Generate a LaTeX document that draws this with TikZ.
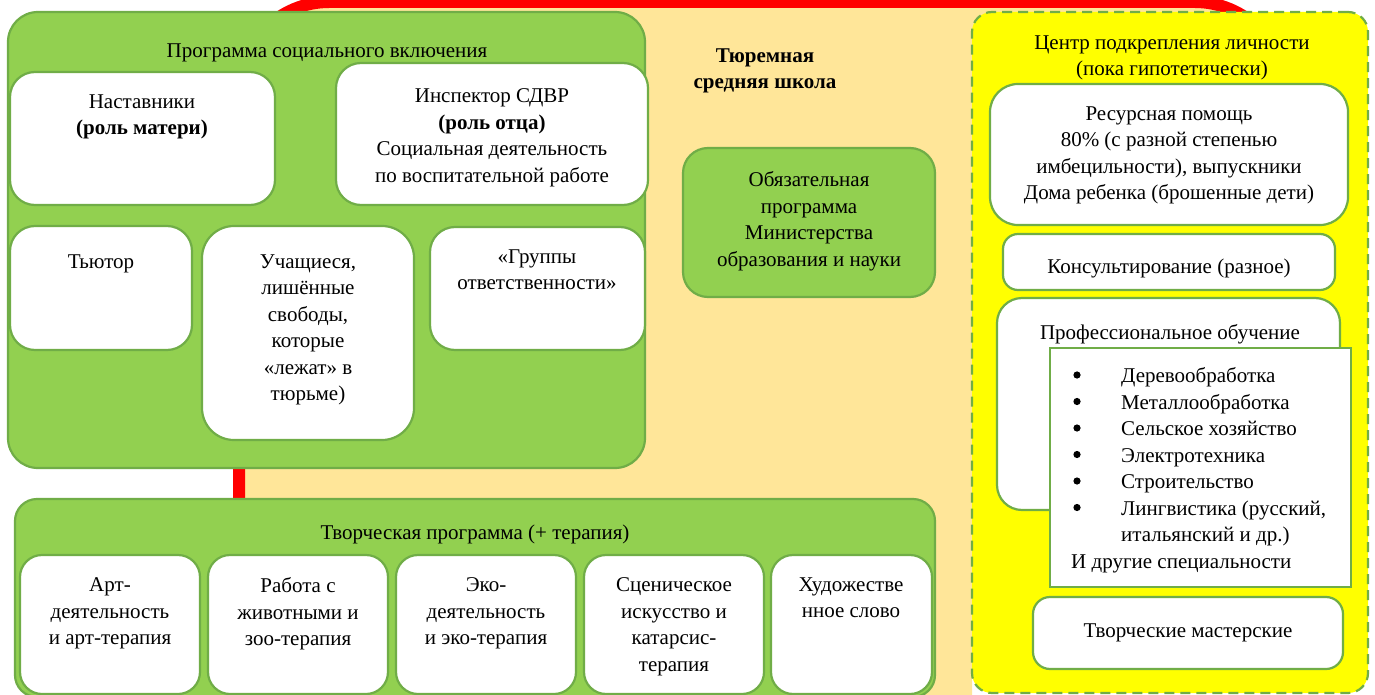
\documentclass[tikz,border=0pt]{standalone}
\usepackage{fontspec}
\setmainfont{Liberation Serif}
\usetikzlibrary{fit}
\definecolor{gfill}{HTML}{92D050}
\definecolor{gline}{HTML}{70AD47}
\definecolor{peach}{HTML}{FFE699}
\definecolor{yel}{HTML}{FFFF00}
\newcommand\myfs{\fontsize{21}{26.5}\selectfont}
\newcommand\bul{\hspace*{50pt}}
\tikzset{
  gbox/.style={draw=gline, fill=gfill, line width=2.2pt, inner sep=0pt, rounded corners=30pt},
  wbox/.style={draw=gline, fill=white, line width=2.2pt, inner sep=0pt, rounded corners=25pt},
  ybox/.style={draw=gline, fill=yel, line width=2.2pt, inner sep=0pt, rounded corners=20pt, dash pattern=on 10pt off 6pt},
  txt/.style={inner sep=0pt, align=center, font=\myfs, execute at begin node=\strut, anchor=north},
  bulletdot/.style={fill=black},
}
\newcommand\tx[4]{\node[txt] (#1) at (#2, #3-6.5) {#4};}
\begin{document}
\begin{tikzpicture}[x=1pt, y=-1pt]
\useasboundingbox (0,0) rectangle (1375,695);
\clip (0,0) rectangle (1375,695);
\fill[white] (0,0) rectangle (1375,695);
% background school area
\begin{scope}
\clip (0,0) rectangle (972,695) (972,0) rectangle (1375,660);
\draw[red, line width=12pt, fill=peach, rounded corners=90pt] (239,2) rectangle (1285,820);
\end{scope}
\tx{school}{765}{55}{\textbf{Тюремная}\\\textbf{средняя школа}}
% social inclusion programme
\node[gbox, fit={(8,12) (645,468)}] (soc) {};
\tx{soct}{327}{45}{Программа социального включения}
\node[wbox, fit={(10,72) (275,205)}] (nast) {};
\tx{nastt}{142}{101}{Наставники\\\textbf{(роль матери)}}
\node[wbox, fit={(336,63) (648,205)}] (insp) {};
\tx{inspt}{492}{95}{Инспектор СДВР\\\textbf{(роль отца)}\\Социальная деятельность\\по воспитательной работе}
\node[wbox, fit={(10,226) (192,350)}] (tut) {};
\tx{tutt}{101}{256}{Тьютор}
\node[wbox, rounded corners=32pt, fit={(202,226) (414,440)}] (stud) {};
\tx{studt}{308}{261}{Учащиеся,\\лишённые\\свободы,\\которые\\«лежат» в\\тюрьме)}
\node[wbox, fit={(430,227) (645,350)}] (grp) {};
\tx{grpt}{537}{256}{«Группы\\ответственности»}
% obligatory programme
\node[gbox, rounded corners=25pt, fit={(683,148) (935,297)}] (obl) {};
\tx{oblt}{809}{178}{Обязательная\\программа\\Министерства\\образования и науки}
% creative programme
\node[gbox, rounded corners=22pt, fit={(15,499) (935,697)}] (cre) {};
\tx{cret}{475}{527}{Творческая программа (+ терапия)}
\node[wbox, rounded corners=22pt, fit={(20,555) (200,694)}] (art) {};
\tx{artt}{110}{584}{Арт-\\деятельность\\и арт-терапия}
\node[wbox, rounded corners=22pt, fit={(208,555) (388,694)}] (zoo) {};
\tx{zoot}{298}{584}{Работа с\\животными и\\зоо-терапия}
\node[wbox, rounded corners=22pt, fit={(396,555) (576,694)}] (eco) {};
\tx{ecot}{486}{584}{Эко-\\деятельность\\и эко-терапия}
\node[wbox, rounded corners=22pt, fit={(584,555) (764,694)}] (sce) {};
\tx{scet}{674}{584}{Сценическое\\искусство и\\катарсис-\\терапия}
\node[wbox, rounded corners=22pt, fit={(771,555) (932,694)}] (hud) {};
\tx{hudt}{851}{584}{Художестве\\нное слово}
% personality support centre
\node[ybox, fit={(972,12) (1368,693)}] (cen) {};
\tx{cent}{1172}{42}{Центр подкрепления личности\\(пока гипотетически)}
\node[wbox, rounded corners=28pt, fit={(990,84) (1348,225)}] (res) {};
\tx{rest}{1169}{113}{Ресурсная помощь\\80\% (с разной степенью\\имбецильности), выпускники\\Дома ребенка (брошенные дети)}
\node[wbox, rounded corners=15pt, fit={(1003,234) (1335,290)}] (kons) {};
\tx{konst}{1169}{261}{Консультирование (разное)}
\node[wbox, fit={(997,298) (1340,510)}] (prof) {};
\tx{proft}{1170}{327}{Профессиональное обучение}
\node[draw=gline, fill=white, line width=2.2pt, inner sep=0pt, fit={(1050,348) (1351,587)}] (list) {};
\node[txt, align=left, anchor=north west] (listt) at (1071, 374-6.5)
  {\bul Деревообработка\\
   \bul Металлообработка\\
   \bul Сельское хозяйство\\
   \bul Электротехника\\
   \bul Строительство\\
   \bul Лингвистика (русский,\\
   \bul итальянский и др.)\\
   И другие специальности};
\foreach \yy in {375,401.5,428,454.5,481,507.5}
  \fill[bulletdot] (1077,\yy) circle (3.6pt);
\node[wbox, rounded corners=17pt, fit={(1033,597) (1343,669)}] (mast) {};
\tx{mastt}{1188}{625}{Творческие мастерские}
\end{tikzpicture}
\end{document}
